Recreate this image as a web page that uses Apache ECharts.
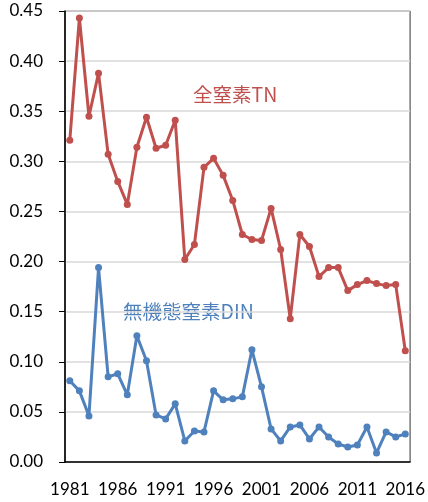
<!DOCTYPE html>
<html>
<head>
<meta charset="utf-8">
<script src="https://cdn.jsdelivr.net/npm/echarts@6/dist/echarts.min.js"></script>
<style>
html, body { margin: 0; padding: 0; background: #fff; }
#chart { width: 428px; height: 502px; }
</style>
</head>
<body>
<div id="chart"></div>
<script>
const years = [];
for (let y = 1981; y <= 2016; y++) years.push(String(y));

const tnValues = [0.321, 0.443, 0.345, 0.388, 0.307, 0.280, 0.257, 0.314, 0.344, 0.313,
    0.316, 0.341, 0.202, 0.217, 0.294, 0.303, 0.286, 0.261, 0.227, 0.222,
    0.221, 0.253, 0.212, 0.143, 0.227, 0.215, 0.185, 0.194, 0.194, 0.171,
    0.177, 0.181, 0.178, 0.176, 0.177, 0.111];
const dinValues = [0.081, 0.071, 0.046, 0.194, 0.085, 0.088, 0.067, 0.126, 0.101, 0.047,
    0.043, 0.058, 0.021, 0.031, 0.030, 0.071, 0.062, 0.063, 0.065, 0.112,
    0.075, 0.033, 0.021, 0.035, 0.037, 0.023, 0.035, 0.025, 0.018, 0.015,
    0.017, 0.035, 0.009, 0.030, 0.025, 0.028];

const RED = '#C0504D';
const BLUE = '#4F81BD';

const chart = echarts.init(document.getElementById('chart'));
chart.setOption({
    animation: false,
    textStyle: { fontFamily: 'Lato' },
    grid: {
        left: 65, right: 17, top: 11, bottom: 40,
        show: true, borderColor: '#333', borderWidth: 1
    },
    xAxis: {
        type: 'category',
        data: years,
        boundaryGap: true,
        axisLine: { lineStyle: { color: '#000', width: 1.5 } },
        axisTick: { interval: 0, length: 6, lineStyle: { color: '#000' } },
        axisLabel: {
            interval: 4, color: '#000', fontSize: 17, margin: 19,
            fontFamily: 'Lato'
        },
        splitLine: { show: false }
    },
    yAxis: {
        type: 'value',
        min: 0, max: 0.45, interval: 0.05,
        axisLine: { show: true, lineStyle: { color: '#000', width: 1.5 } },
        axisTick: { show: true, length: 6, lineStyle: { color: '#000' } },
        axisLabel: {
            color: '#000', fontSize: 17, margin: 22,
            fontFamily: 'Lato',
            formatter: v => v.toFixed(2)
        },
        splitLine: { lineStyle: { color: '#d9d9d9', width: 1.5 } }
    },
    graphic: [
        { type: 'text', left: 193, top: 85,
          style: { text: '全窒素TN', fill: RED, fontSize: 19.5, fontFamily: 'Noto Sans CJK JP' } },
        { type: 'text', left: 123, top: 302,
          style: { text: '無機態窒素DIN', fill: BLUE, fontSize: 19.5, fontFamily: 'Noto Sans CJK JP' } }
    ],
    series: [
        {
            name: 'TN', type: 'line', data: tnValues,
            symbol: 'circle', symbolSize: 7, showAllSymbol: true,
            itemStyle: { color: RED },
            lineStyle: { color: RED, width: 3 }
        },
        {
            name: 'DIN', type: 'line', data: dinValues,
            symbol: 'circle', symbolSize: 7, showAllSymbol: true,
            itemStyle: { color: BLUE },
            lineStyle: { color: BLUE, width: 3 }
        }
    ]
});
</script>
</body>
</html>
